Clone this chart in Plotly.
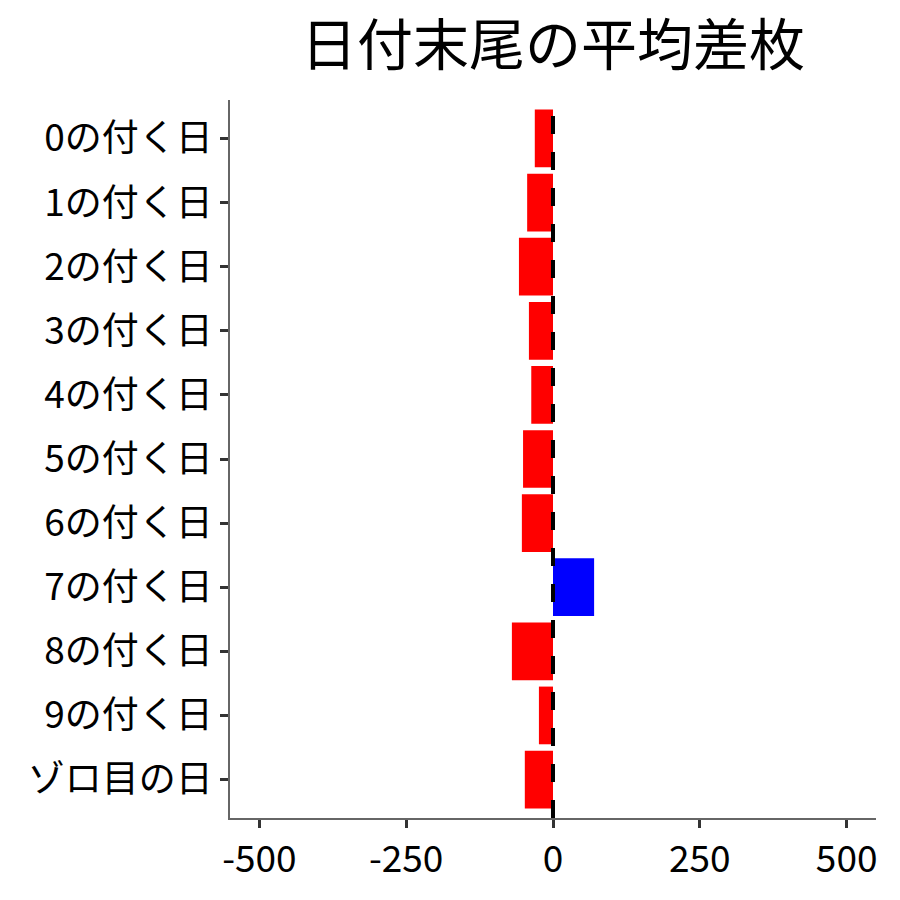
import plotly.graph_objects as go

categories = ["0の付く日", "1の付く日", "2の付く日", "3の付く日", "4の付く日",
              "5の付く日", "6の付く日", "7の付く日", "8の付く日", "9の付く日", "ゾロ目の日"]
values = [-31, -44, -58, -41, -37, -51, -53, 70, -70, -24, -48]
x_ticks = [-500, -250, 0, 250, 500]

colors = ["#0000FF" if v > 0 else "#FF0000" for v in values]

fig = go.Figure()
fig.add_trace(go.Bar(
    y=categories, x=values, orientation="h",
    marker=dict(color=colors, line=dict(width=0)),
    width=0.9, showlegend=False,
))

fig.add_shape(type="line", xref="x", yref="paper", x0=0, x1=0, y0=0, y1=1,
              line=dict(color="black", width=4, dash="18px,18px"), layer="above")

font = "Noto Sans CJK JP"
fig.update_layout(
    width=900, height=900,
    margin=dict(l=222, r=32, t=92, b=90),
    plot_bgcolor="white", paper_bgcolor="white",
    title=dict(text="日付末尾の平均差枚", xref="paper", x=0.5, xanchor="center",
               y=0.959, yanchor="middle",
               font=dict(family=font, size=56, color="black")),
    bargap=0.1,
)
fig.update_xaxes(
    range=[-550, 550], tickvals=x_ticks, ticktext=[str(t) for t in x_ticks],
    showgrid=False, zeroline=False,
    showline=True, linecolor="#666666", linewidth=1.5,
    ticks="outside", ticklen=8, tickwidth=3, tickcolor="#333333",
    tickfont=dict(family=font, size=37, color="black"),
)
fig.update_yaxes(
    categoryorder="array", categoryarray=categories,
    range=[10.6, -0.6],
    showgrid=False, zeroline=False,
    showline=True, linecolor="#666666", linewidth=1.5,
    ticks="outside", ticklen=8, tickwidth=3, tickcolor="#333333",
    tickfont=dict(family=font, size=37, color="black"),
)

fig.write_html("out.html")
